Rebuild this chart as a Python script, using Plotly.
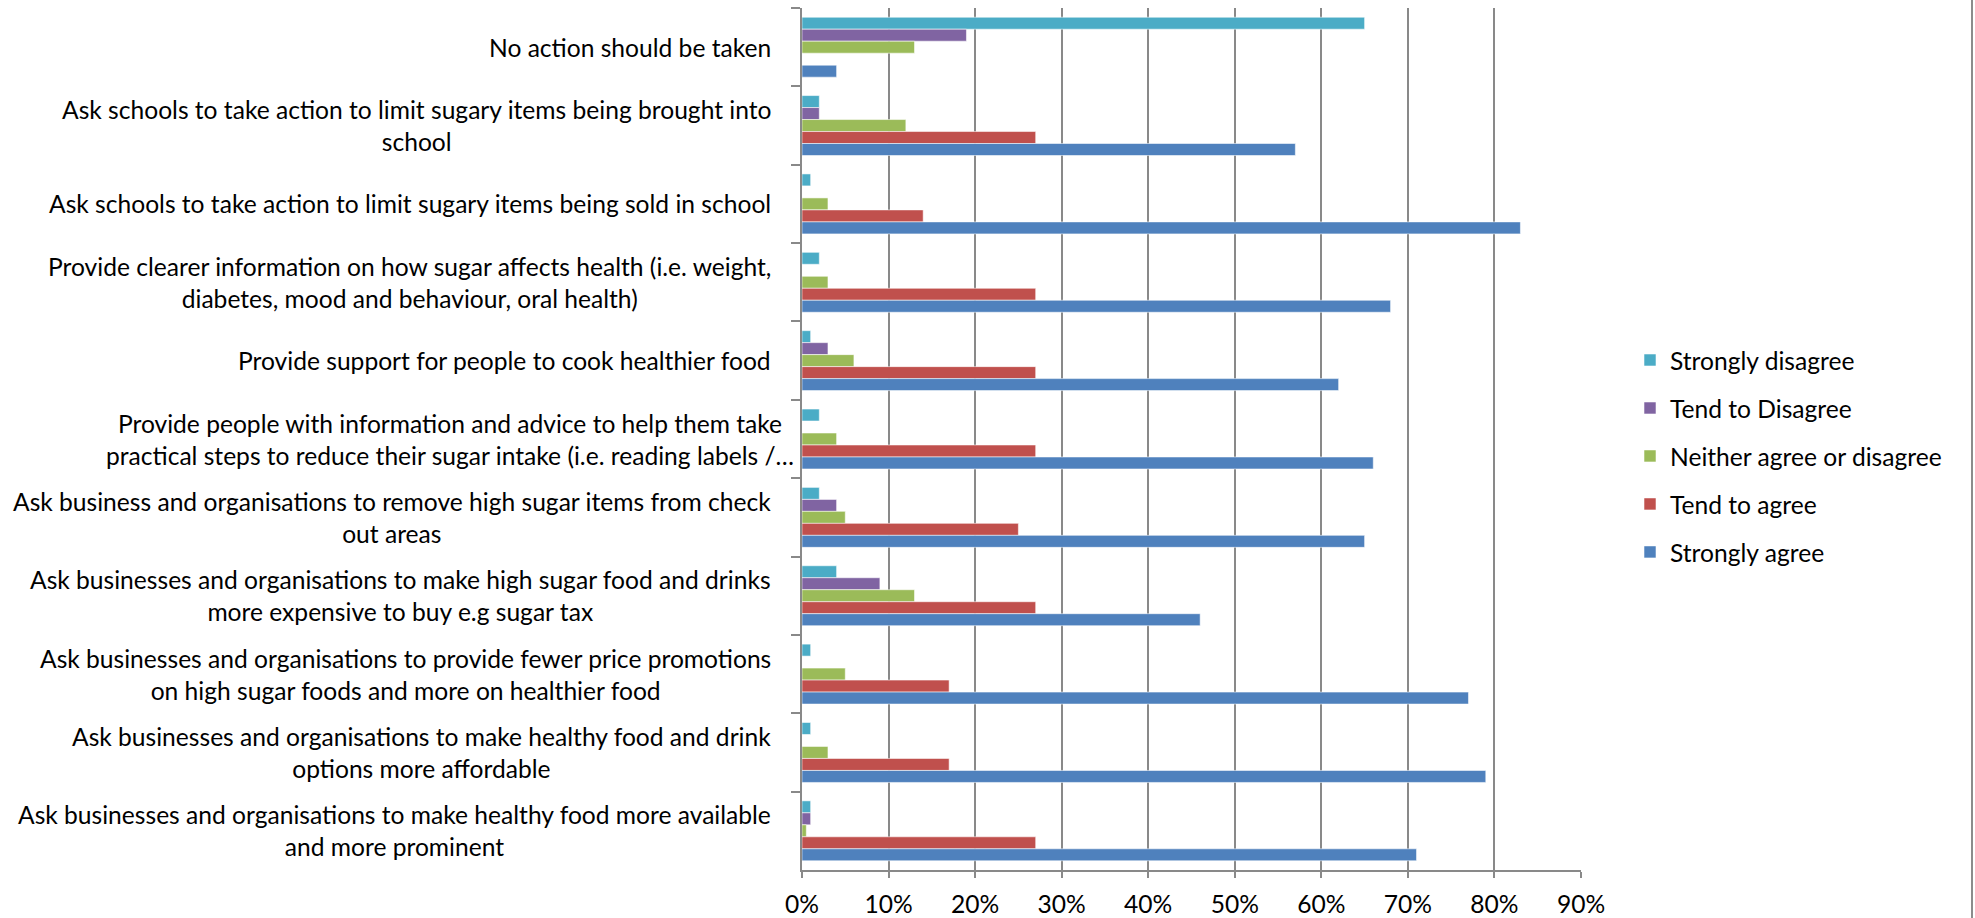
import plotly.graph_objects as go

# Survey statements, listed top to bottom
statements = [
    "No action should be taken",
    "Ask schools to take action to limit sugary items being brought into<br>school",
    "Ask schools to take action to limit sugary items being sold in school",
    "Provide clearer information on how sugar affects health (i.e. weight,<br>diabetes, mood and behaviour, oral health)",
    "Provide support for people to cook healthier food",
    "Provide people with information and advice to help them take<br>practical steps to reduce their sugar intake (i.e. reading labels /…",
    "Ask business and organisations to remove high sugar items from check<br>out areas",
    "Ask businesses and organisations to make high sugar food and drinks<br>more expensive to buy e.g sugar tax",
    "Ask businesses and organisations to provide fewer price promotions<br>on high sugar foods and more on healthier food",
    "Ask businesses and organisations to make healthy food and drink<br>options more affordable",
    "Ask businesses and organisations to make healthy food more available<br>and more prominent",
]

# Share of respondents (%) per response option
strongly_disagree = [65, 2, 1, 2, 1, 2, 2, 4, 1, 1, 1]
tend_to_disagree = [19, 2, 0, 0, 3, 0, 4, 9, 0, 0, 1]
neither = [13, 12, 3, 3, 6, 4, 5, 13, 5, 3, 0.5]
tend_to_agree = [0, 27, 14, 27, 27, 27, 25, 27, 17, 17, 27]
strongly_agree = [4, 57, 83, 68, 62, 66, 65, 46, 77, 79, 71]

x_ticks = [0, 10, 20, 30, 40, 50, 60, 70, 80, 90]

series = [
    ("Strongly disagree", strongly_disagree, "#4BACC6"),
    ("Tend to Disagree", tend_to_disagree, "#8064A2"),
    ("Neither agree or disagree", neither, "#9BBB59"),
    ("Tend to agree", tend_to_agree, "#C0504D"),
    ("Strongly agree", strongly_agree, "#4F81BD"),
]

cats = [f"c{i}" for i in range(len(statements))]

W, H = 1975, 918
ML, MR, MT, MB = 802, 394, 8, 48
plot_w = W - ML - MR
plot_h = H - MT - MB

FONT = "Lato, 'Open Sans', sans-serif"
FS = 24.6
GRID = "#898989"

fig = go.Figure()
for name, vals, color in series:
    fig.add_trace(go.Bar(
        y=cats, x=vals, name=name, orientation="h",
        marker=dict(color=color, line=dict(color="rgba(255,255,255,0.55)", width=1)),
        legendgroup=name,
    ))

# Category labels: block right-aligned next to the axis, lines centred
annotations = []
for i, (cat, text) in enumerate(zip(cats, statements)):
    right_px = 796 if "reading labels" in text else 773
    annotations.append(dict(
        x=(right_px - ML) / plot_w, xref="paper", y=cat, yref="y",
        text=text, showarrow=False, xanchor="right", yanchor="middle",
        align="center", font=dict(family=FONT, size=FS, color="#000000"),
    ))

fig.update_layout(
    width=W, height=H,
    margin=dict(l=ML, r=MR, t=MT, b=MB, pad=0, autoexpand=False),
    paper_bgcolor="white", plot_bgcolor="white",
    barmode="group", bargap=0.235, bargroupgap=0,
    font=dict(family=FONT, size=FS, color="#000000"),
    showlegend=True,
    legend=dict(
        x=(1630 - ML) / plot_w, xanchor="left",
        y=(H - MB - 456) / plot_h, yanchor="middle",
        traceorder="grouped", tracegroupgap=13,
        font=dict(family=FONT, size=FS, color="#000000"),
        bgcolor="rgba(0,0,0,0)",
    ),
    annotations=annotations,
    shapes=[dict(
        type="line", xref="paper", yref="paper",
        x0=(1972 - ML) / plot_w, x1=(1972 - ML) / plot_w,
        y0=-MB / plot_h, y1=1 + MT / plot_h,
        line=dict(color="#8c8c8c", width=2),
    )],
)

fig.update_xaxes(
    range=[0, 90], tickvals=x_ticks, ticktext=[f"{v}%" for v in x_ticks],
    showgrid=True, gridcolor=GRID, gridwidth=2, zeroline=False,
    showline=True, linecolor=GRID, linewidth=2,
    ticks="outside", ticklen=6, tickwidth=2, tickcolor=GRID,
    ticklabelstandoff=5, automargin=False,
    tickfont=dict(family=FONT, size=FS, color="#000000"),
)
fig.update_yaxes(
    categoryorder="array", categoryarray=cats, autorange="reversed",
    showticklabels=False, showgrid=False, zeroline=False,
    showline=True, linecolor=GRID, linewidth=2,
    ticks="outside", ticklen=9, tickwidth=2, tickcolor=GRID,
    tickson="boundaries", automargin=False,
)

fig.write_html("out.html")
